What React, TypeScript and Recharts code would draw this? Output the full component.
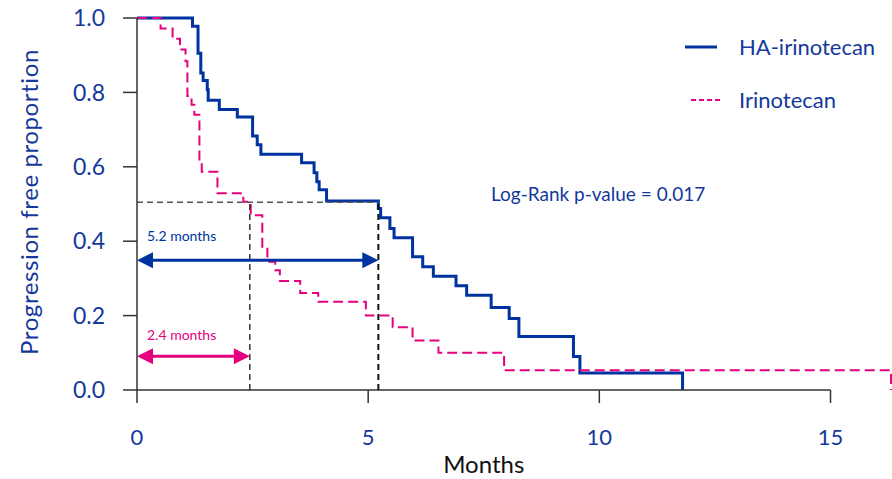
import { LineChart, Line, XAxis, YAxis, ReferenceLine, Legend } from 'recharts'

// Kaplan-Meier steps (months, proportion progression free)
const haTimes = [0, 1.2, 1.32, 1.38, 1.43, 1.52, 1.54, 1.78, 2.17, 2.5, 2.6, 2.68, 3.56, 3.83, 3.89, 3.94, 4.1, 5.22, 5.27, 5.47, 5.56, 5.96, 6.18, 6.41, 6.9, 7.13, 7.66, 8.05, 8.26, 9.44, 9.58, 11.8]
const haSurv = [1.0, 0.978, 0.905, 0.852, 0.832, 0.807, 0.779, 0.754, 0.734, 0.683, 0.659, 0.634, 0.611, 0.584, 0.56, 0.538, 0.508, 0.488, 0.463, 0.434, 0.409, 0.358, 0.331, 0.306, 0.28, 0.255, 0.222, 0.192, 0.144, 0.09, 0.046, 0]

const irTimes = [0, 0.51, 0.77, 0.93, 1.05, 1.09, 1.18, 1.24, 1.35, 1.4, 1.74, 2.3, 2.46, 2.71, 2.82, 2.99, 3.09, 3.53, 3.92, 4.95, 5.53, 5.96, 6.52, 7.94, 16.31]
const irSurv = [1.0, 0.972, 0.944, 0.915, 0.884, 0.79, 0.767, 0.74, 0.614, 0.587, 0.529, 0.506, 0.47, 0.38, 0.345, 0.322, 0.293, 0.261, 0.237, 0.2, 0.169, 0.133, 0.1, 0.053, 0]

const xTicks = [0, 5, 10, 15]
const yTicks = [0, 0.2, 0.4, 0.6, 0.8, 1.0]

const haMedian = 5.22
const irMedian = 2.44
const halfLevel = 0.505

const haData = haTimes.map((x, i) => ({ x, y: haSurv[i] }))
const irData = irTimes.map((x, i) => ({ x, y: irSurv[i] }))

const BLUE = '#0033a0'
const PINK = '#e5007d'
const TEXT_BLUE = '#14399a'
const FONT = 'Lato, "Open Sans", sans-serif'

function ArrowShape(props: any) {
  const { x1, y1, x2, color, text, textDy } = props
  const len = 16
  const h = 8
  return (
    <g>
      <line x1={x1 + len - 2} y1={y1} x2={x2 - len + 2} y2={y1} stroke={color} strokeWidth={3} />
      <polygon points={`${x1},${y1} ${x1 + len},${y1 - h} ${x1 + len},${y1 + h}`} fill={color} />
      <polygon points={`${x2},${y1} ${x2 - len},${y1 - h} ${x2 - len},${y1 + h}`} fill={color} />
      <text x={x1 + 10} y={y1 + textDy} fill={color} fontSize={14} fontFamily={FONT}>
        {text}
      </text>
    </g>
  )
}

function LegendBox(props: any) {
  const items = props.payload || []
  return (
    <svg width={220} height={110}>
      {items.map((it: any, i: number) => {
        const y = 27 + i * 53
        const dashed = i === 1
        return (
          <g key={i}>
            <line
              x1={dashed ? 11 : 5}
              x2={dashed ? 42 : 37}
              y1={y}
              y2={y}
              stroke={it.color}
              strokeWidth={dashed ? 2 : 3}
              strokeDasharray={dashed ? '5 3' : undefined}
            />
            <text x={59} y={y + 8} fill={TEXT_BLUE} fontSize={22} fontFamily={FONT}>
              {it.value}
            </text>
          </g>
        )
      })}
    </svg>
  )
}

function YLabel(props: any) {
  const vb = props.viewBox || { x: 0, y: 0, height: 0 }
  const cx = 28
  const cy = vb.y + vb.height / 2 - 2
  return (
    <text
      x={cx}
      y={cy}
      transform={`rotate(-90 ${cx} ${cy})`}
      textAnchor='middle'
      dominantBaseline='central'
      fill={TEXT_BLUE}
      fontSize={24}
      letterSpacing={0.6}
      fontFamily={FONT}
    >
      Progression free proportion
    </text>
  )
}

export default function App() {
  return (
    <div style={{ position: 'absolute', left: 0, top: 0 }}>
      <LineChart width={892} height={479} margin={{ top: 18, right: 0, bottom: 0, left: 0 }}>
        <XAxis
          type='number'
          dataKey='x'
          domain={[0, 16.33]}
          allowDataOverflow
          ticks={xTicks}
          axisLine={false}
          tickSize={13}
          tickMargin={26}
          height={89}
          tickLine={{ stroke: '#333', strokeWidth: 1.5 }}
          tick={{ fill: TEXT_BLUE, fontSize: 22, fontFamily: FONT }}
        />
        <YAxis
          type='number'
          domain={[0, 1]}
          ticks={yTicks}
          width={137}
          tickSize={14}
          tickMargin={18}
          tickFormatter={(v: number) => v.toFixed(1)}
          axisLine={{ stroke: '#333', strokeWidth: 1.5 }}
          tickLine={{ stroke: '#333', strokeWidth: 1.5 }}
          tick={{ fill: TEXT_BLUE, fontSize: 23, fontFamily: FONT }}
          label={{ content: <YLabel /> }}
        />
        <Legend
          layout='vertical'
          verticalAlign='middle'
          align='center'
          content={<LegendBox />}
          wrapperStyle={{ position: 'absolute', left: 680, top: 20, width: 220, height: 110 }}
        />
        <Line
          data={haData}
          dataKey='y'
          name='HA-irinotecan'
          type='stepAfter'
          stroke={BLUE}
          strokeWidth={3}
          dot={false}
          activeDot={false}
          isAnimationActive={false}
        />
        <Line
          data={irData}
          dataKey='y'
          name='Irinotecan'
          type='stepAfter'
          stroke={PINK}
          strokeWidth={2}
          strokeDasharray='10 5'
          dot={false}
          activeDot={false}
          isAnimationActive={false}
        />
        <ReferenceLine
          segment={[{ x: 0, y: 0 }, { x: 15, y: 0 }]}
          stroke='#333'
          strokeWidth={1.5}
          label={{ value: 'Months', position: 'bottom', offset: 66, fill: '#111', fontSize: 24, fontFamily: FONT }}
        />
        <ReferenceLine
          segment={[{ x: 0, y: halfLevel }, { x: haMedian, y: halfLevel }]}
          stroke='#555'
          strokeWidth={1.5}
          strokeDasharray='6 4'
        />
        <ReferenceLine
          segment={[{ x: irMedian, y: 0 }, { x: irMedian, y: halfLevel }]}
          stroke='#333'
          strokeWidth={1.5}
          strokeDasharray='6 4'
        />
        <ReferenceLine
          segment={[{ x: haMedian, y: 0 }, { x: haMedian, y: halfLevel }]}
          stroke='#111'
          strokeWidth={2}
          strokeDasharray='6 4'
        />
        <ReferenceLine
          segment={[{ x: 0, y: 0.349 }, { x: haMedian, y: 0.349 }]}
          shape={(p: any) => <ArrowShape {...p} color={BLUE} text='5.2 months' textDy={-19} />}
        />
        <ReferenceLine
          segment={[{ x: 0, y: 0.091 }, { x: irMedian, y: 0.091 }]}
          shape={(p: any) => <ArrowShape {...p} color={PINK} text='2.4 months' textDy={-16} />}
        />
        <text x={491} y={201} fill={TEXT_BLUE} fontSize={19} fontFamily={FONT}>
          Log-Rank p-value = 0.017
        </text>
      </LineChart>
    </div>
  )
}
